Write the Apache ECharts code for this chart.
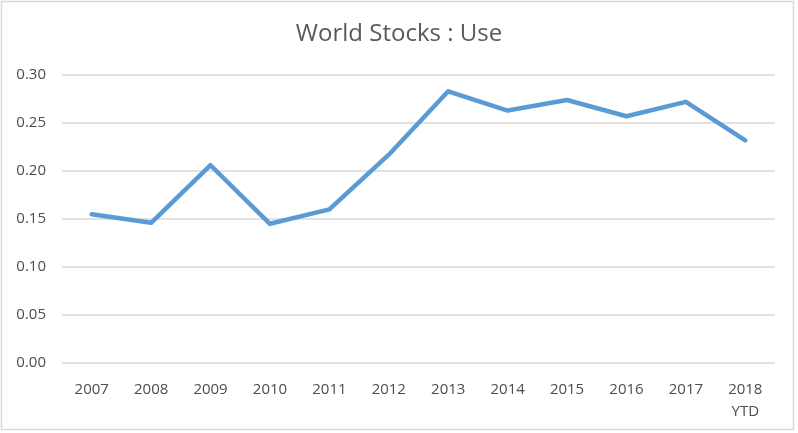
<!DOCTYPE html>
<html><head><meta charset="utf-8">
<script src="https://cdn.jsdelivr.net/npm/echarts@6/dist/echarts.min.js"></script>
<style>html,body{margin:0;padding:0;background:#fff}#c{width:798px;height:433px}</style>
</head><body><div id="c"></div>
<script>
const categories = ['2007','2008','2009','2010','2011','2012','2013','2014','2015','2016','2017','2018\nYTD'];
const useValues = [0.155, 0.146, 0.206, 0.145, 0.160, 0.217, 0.283, 0.263, 0.274, 0.257, 0.272, 0.232];
const yTicks = {min: 0, max: 0.30, interval: 0.05};
const titleText = 'World Stocks : Use';

const chart = echarts.init(document.getElementById('c'));
chart.setOption({
  backgroundColor: '#fff',
  animation: false,
  graphic: [{type:'rect', shape:{x:1.5,y:1.5,width:792,height:428}, style:{fill:'none', stroke:'#d9d9d9', lineWidth:1.5}, silent:true}],
  title: {text: titleText, left: 'center', top: 17, textStyle: {fontFamily: 'Open Sans', fontWeight: 'normal', fontSize: 24, color: '#595959'}},
  grid: {left: 62, right: 23, top: 75, bottom: 70},
  xAxis: {
    type: 'category', data: categories, boundaryGap: true,
    axisLine: {show: false}, axisTick: {show: false},
    axisLabel: {color: '#4d4d4d', fontFamily: 'Open Sans', fontSize: 15, margin: 16, lineHeight: 22}
  },
  yAxis: {
    type: 'value', min: yTicks.min, max: yTicks.max, interval: yTicks.interval,
    axisLine: {show: false}, axisTick: {show: false},
    splitLine: {lineStyle: {color: '#d9d9d9', width: 1.5}},
    axisLabel: {color: '#4d4d4d', fontFamily: 'Open Sans', fontSize: 15, margin: 16, formatter: v => v.toFixed(2)}
  },
  series: [{type: 'line', data: useValues, symbol: 'none', lineStyle: {color: '#5b9bd5', width: 4.5, cap: 'round', join: 'round'}}]
});
</script></body></html>
